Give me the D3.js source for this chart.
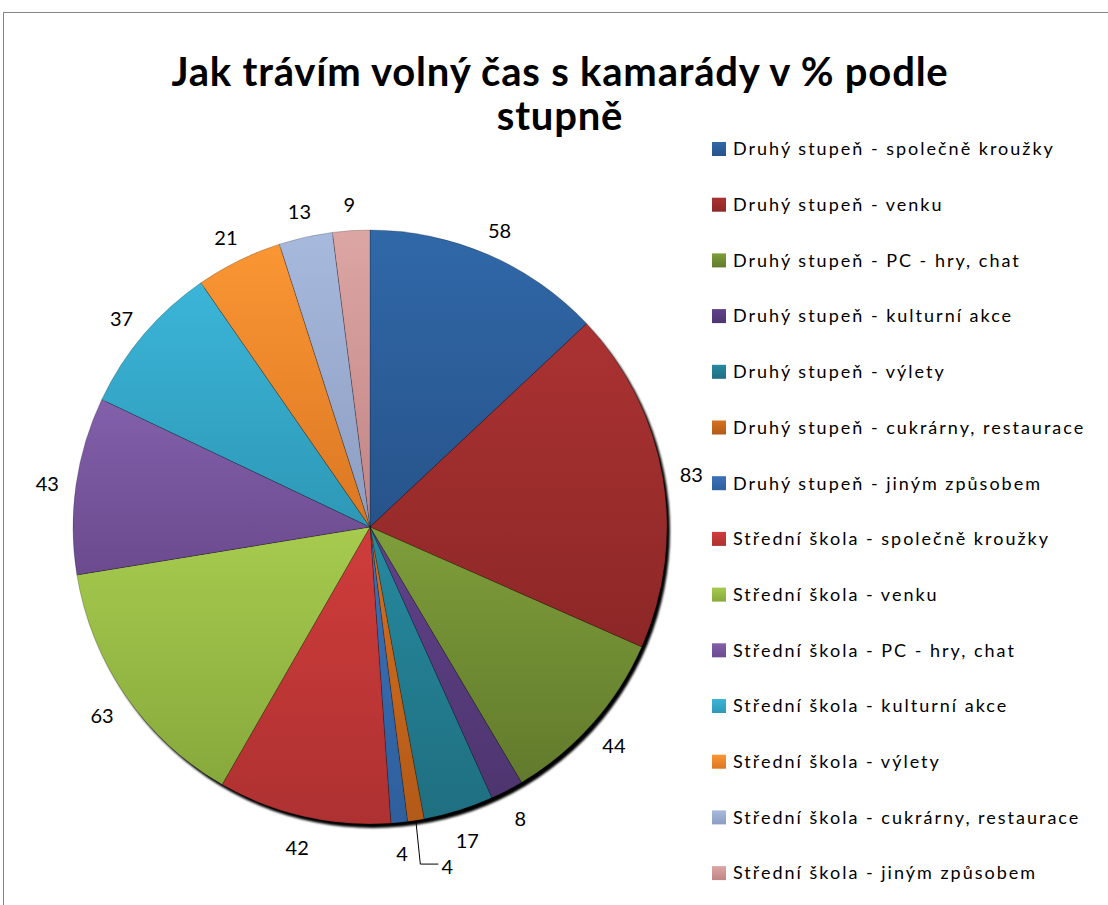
<!DOCTYPE html>
<html>
<head>
<meta charset="utf-8">
<script src="https://cdn.jsdelivr.net/npm/d3@7"></script>
<style>
  body { margin: 0; background: #fff; }
  svg { display: block; }
  .title { font-family: Lato, "Open Sans", sans-serif; font-weight: bold; font-size: 40px; letter-spacing: 0.8px; fill: #000; }
  .legend text { font-family: Lato, "Open Sans", sans-serif; font-size: 18px; fill: #000; letter-spacing: 2px; }
  .dlabel { font-family: Lato, "Open Sans", sans-serif; font-size: 20px; fill: #000; }
</style>
</head>
<body>
<svg id="chart" width="1108" height="905"></svg>
<script>
// Chart data
var categories = [
  "Druhý stupeň - společně kroužky",
  "Druhý stupeň - venku",
  "Druhý stupeň - PC - hry, chat",
  "Druhý stupeň - kulturní akce",
  "Druhý stupeň - výlety",
  "Druhý stupeň - cukrárny, restaurace",
  "Druhý stupeň - jiným způsobem",
  "Střední škola - společně kroužky",
  "Střední škola - venku",
  "Střední škola - PC - hry, chat",
  "Střední škola - kulturní akce",
  "Střední škola - výlety",
  "Střední škola - cukrárny, restaurace",
  "Střední škola - jiným způsobem"
];
var values = [58, 83, 44, 8, 17, 4, 4, 42, 63, 43, 37, 21, 13, 9];

var titleLines = ["Jak trávím volný čas s kamarády v % podle", "stupně"];

// top / bottom gradient colours for each slice
var topColors = ["#3068a8", "#ab3232", "#7e9e3a", "#60428a", "#26899f", "#d67020", "#3b72ba",
                 "#cf3d3b", "#a6cb4e", "#8260ab", "#3bb5d8", "#fb9634", "#a8b9de", "#dca6a5"];
var bottomColors = ["#27538a", "#8d2727", "#627a2c", "#4e356f", "#1f6f80", "#b25a18", "#2f5f9c",
                    "#ae3131", "#87a93c", "#6b4a8e", "#2e98b6", "#db7722", "#8c9dc1", "#c08584"];

var svg = d3.select("#chart");
var defs = svg.append("defs");

var cx = 370, cy = 527, radius = 297;

// chart area frame
svg.append("rect")
  .attr("x", 3.5).attr("y", 12.5)
  .attr("width", 1200).attr("height", 1000)
  .attr("fill", "none")
  .attr("stroke", "#868686")
  .attr("stroke-width", 1);

// gradients
categories.forEach(function (c, i) {
  var g = defs.append("linearGradient")
    .attr("id", "grad" + i)
    .attr("x1", 0).attr("y1", 0).attr("x2", 0).attr("y2", 1);
  g.append("stop").attr("offset", "0%").attr("stop-color", topColors[i]);
  g.append("stop").attr("offset", "100%").attr("stop-color", bottomColors[i]);
});

var blur = defs.append("filter").attr("id", "shadow")
  .attr("x", "-10%").attr("y", "-10%").attr("width", "120%").attr("height", "120%");
blur.append("feGaussianBlur").attr("stdDeviation", 1.3);

// title
svg.append("g").selectAll("text")
  .data(titleLines)
  .enter()
  .append("text")
  .attr("class", "title")
  .attr("x", 560)
  .attr("y", function (d, i) { return 86 + i * 44; })
  .attr("text-anchor", "middle")
  .text(function (d) { return d; });

// pie
var pie = d3.pie().sort(null).value(function (d) { return d; });
var arcs = pie(values);
var arc = d3.arc().innerRadius(0).outerRadius(radius);

var pieG = svg.append("g").attr("transform", "translate(" + cx + "," + cy + ")");

pieG.append("circle")
  .attr("cx", 3).attr("cy", 4)
  .attr("r", radius)
  .attr("fill", "#000")
  .attr("filter", "url(#shadow)");

pieG.selectAll("path.slice")
  .data(arcs)
  .enter()
  .append("path")
  .attr("class", "slice")
  .attr("d", arc)
  .attr("fill", function (d, i) { return "url(#grad" + i + ")"; })
  .attr("stroke", "rgba(0,0,0,0.35)")
  .attr("stroke-width", 0.6);

// data labels outside the pie
var labelR = radius + 29;
function labelPos(d) {
  var a = (d.startAngle + d.endAngle) / 2;
  return [Math.sin(a) * labelR, -Math.cos(a) * labelR];
}

// the label of the 6th slice is pushed aside and gets a leader line
var MOVED = 5;
var movedOffset = [27, 15];

pieG.selectAll("text.dlabel")
  .data(arcs)
  .enter()
  .append("text")
  .attr("class", "dlabel")
  .attr("text-anchor", "middle")
  .attr("dy", "0.5em")
  .attr("x", function (d, i) { return labelPos(d)[0] + (i === MOVED ? movedOffset[0] : 0); })
  .attr("y", function (d, i) { return labelPos(d)[1] + (i === MOVED ? movedOffset[1] : 0); })
  .text(function (d) { return d.data; });

var m = arcs[MOVED];
var ma = (m.startAngle + m.endAngle) / 2;
var lp = labelPos(m);
var lx = lp[0] + movedOffset[0], ly = lp[1] + movedOffset[1];
pieG.append("polyline")
  .attr("points", [
    [Math.sin(ma) * radius, -Math.cos(ma) * radius],
    [lx - 27, ly],
    [lx - 9, ly]
  ].map(function (p) { return p.join(","); }).join(" "))
  .attr("fill", "none")
  .attr("stroke", "#000")
  .attr("stroke-width", 1);

// legend
var legend = svg.append("g").attr("class", "legend");
var rowH = 55.7;
var rows = legend.selectAll("g")
  .data(categories)
  .enter()
  .append("g")
  .attr("transform", function (d, i) { return "translate(712," + (149 + i * rowH) + ")"; });

rows.append("rect")
  .attr("x", 0).attr("y", -7)
  .attr("width", 14).attr("height", 14)
  .attr("fill", function (d, i) { return "url(#grad" + i + ")"; });

rows.append("text")
  .attr("x", 21)
  .attr("dy", "0.35em")
  .text(function (d) { return d; });
</script>
</body>
</html>
